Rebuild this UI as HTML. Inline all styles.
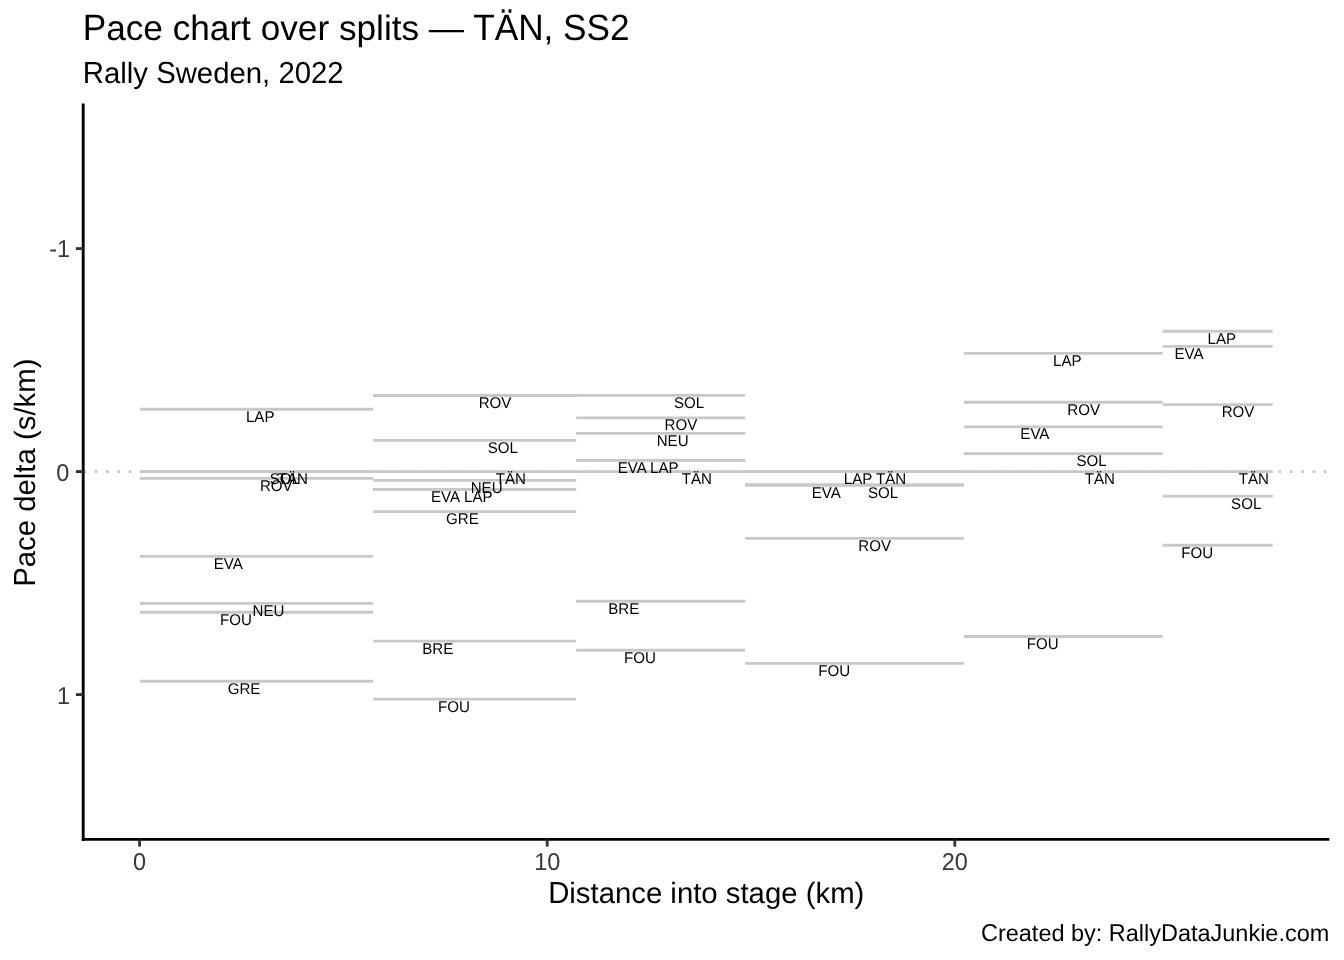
<!DOCTYPE html>
<html><head><meta charset="utf-8"><title>Pace chart over splits</title>
<style>
html,body{margin:0;padding:0;background:#fff;}
body{width:1344px;height:960px;overflow:hidden;}
svg{display:block;filter:grayscale(1);}
text{font-family:"Liberation Sans",sans-serif;text-rendering:geometricPrecision;}
</style></head><body>
<svg width="1344" height="960" viewBox="0 0 1344 960">
<rect x="0" y="0" width="1344" height="960" fill="#ffffff"/>
<line x1="83.2" y1="471.6" x2="1329.3" y2="471.6" stroke="#c8c8c8" stroke-width="2.85" stroke-dasharray="2.8455 8.5365"/>
<g stroke="#c8c8c8" stroke-width="2.85">
<line x1="139.8" y1="409.2" x2="373.1" y2="409.2"/>
<line x1="139.8" y1="471.6" x2="373.1" y2="471.6"/>
<line x1="139.8" y1="471.6" x2="373.1" y2="471.6"/>
<line x1="139.8" y1="478.3" x2="373.1" y2="478.3"/>
<line x1="139.8" y1="556.4" x2="373.1" y2="556.4"/>
<line x1="139.8" y1="603.3" x2="373.1" y2="603.3"/>
<line x1="139.8" y1="612.2" x2="373.1" y2="612.2"/>
<line x1="139.8" y1="681.2" x2="373.1" y2="681.2"/>
<line x1="373.1" y1="395.5" x2="576.1" y2="395.5"/>
<line x1="373.1" y1="440.4" x2="576.1" y2="440.4"/>
<line x1="373.1" y1="471.6" x2="576.1" y2="471.6"/>
<line x1="373.1" y1="480.4" x2="576.1" y2="480.4"/>
<line x1="373.1" y1="489.4" x2="576.1" y2="489.4"/>
<line x1="373.1" y1="489.4" x2="576.1" y2="489.4"/>
<line x1="373.1" y1="511.6" x2="576.1" y2="511.6"/>
<line x1="373.1" y1="641.1" x2="576.1" y2="641.1"/>
<line x1="373.1" y1="699.1" x2="576.1" y2="699.1"/>
<line x1="576.1" y1="395.3" x2="745.2" y2="395.3"/>
<line x1="576.1" y1="417.9" x2="745.2" y2="417.9"/>
<line x1="576.1" y1="433.3" x2="745.2" y2="433.3"/>
<line x1="576.1" y1="460.4" x2="745.2" y2="460.4"/>
<line x1="576.1" y1="460.4" x2="745.2" y2="460.4"/>
<line x1="576.1" y1="471.6" x2="745.2" y2="471.6"/>
<line x1="576.1" y1="601.2" x2="745.2" y2="601.2"/>
<line x1="576.1" y1="650.2" x2="745.2" y2="650.2"/>
<line x1="745.2" y1="471.6" x2="963.9" y2="471.6"/>
<line x1="745.2" y1="471.6" x2="963.9" y2="471.6"/>
<line x1="745.2" y1="485" x2="963.9" y2="485"/>
<line x1="745.2" y1="485" x2="963.9" y2="485"/>
<line x1="745.2" y1="538.4" x2="963.9" y2="538.4"/>
<line x1="745.2" y1="663.3" x2="963.9" y2="663.3"/>
<line x1="963.9" y1="353.4" x2="1162.6" y2="353.4"/>
<line x1="963.9" y1="402.2" x2="1162.6" y2="402.2"/>
<line x1="963.9" y1="426.8" x2="1162.6" y2="426.8"/>
<line x1="963.9" y1="453.6" x2="1162.6" y2="453.6"/>
<line x1="963.9" y1="471.6" x2="1162.6" y2="471.6"/>
<line x1="963.9" y1="636.5" x2="1162.6" y2="636.5"/>
<line x1="1162.6" y1="331.2" x2="1272.7" y2="331.2"/>
<line x1="1162.6" y1="346.3" x2="1272.7" y2="346.3"/>
<line x1="1162.6" y1="404.6" x2="1272.7" y2="404.6"/>
<line x1="1162.6" y1="471.6" x2="1272.7" y2="471.6"/>
<line x1="1162.6" y1="496.1" x2="1272.7" y2="496.1"/>
<line x1="1162.6" y1="545.2" x2="1272.7" y2="545.2"/>
</g>
<g font-size="15.12" fill="#000" text-anchor="middle">
<text transform="translate(260.2 422) scale(1 1.03)">LAP</text>
<text transform="translate(292.9 484) scale(1 1.03)">TÄN</text>
<text transform="translate(284.9 484) scale(1 1.03)">SOL</text>
<text transform="translate(276.3 491) scale(1 1.03)">ROV</text>
<text transform="translate(228.2 569) scale(1 1.03)">EVA</text>
<text transform="translate(268.5 616) scale(1 1.03)">NEU</text>
<text transform="translate(235.9 625) scale(1 1.03)">FOU</text>
<text transform="translate(244 694) scale(1 1.03)">GRE</text>
<text transform="translate(495 408) scale(1 1.03)">ROV</text>
<text transform="translate(502.9 453) scale(1 1.03)">SOL</text>
<text transform="translate(510.9 484) scale(1 1.03)">TÄN</text>
<text transform="translate(486.6 493) scale(1 1.03)">NEU</text>
<text transform="translate(445.6 502) scale(1 1.03)">EVA</text>
<text transform="translate(478.4 502) scale(1 1.03)">LAP</text>
<text transform="translate(462.4 524) scale(1 1.03)">GRE</text>
<text transform="translate(437.7 654) scale(1 1.03)">BRE</text>
<text transform="translate(453.9 712) scale(1 1.03)">FOU</text>
<text transform="translate(689 408) scale(1 1.03)">SOL</text>
<text transform="translate(680.9 430) scale(1 1.03)">ROV</text>
<text transform="translate(672.6 446) scale(1 1.03)">NEU</text>
<text transform="translate(632.2 473) scale(1 1.03)">EVA</text>
<text transform="translate(664.4 473) scale(1 1.03)">LAP</text>
<text transform="translate(696.9 484) scale(1 1.03)">TÄN</text>
<text transform="translate(623.8 614) scale(1 1.03)">BRE</text>
<text transform="translate(640 663) scale(1 1.03)">FOU</text>
<text transform="translate(858.1 484) scale(1 1.03)">LAP</text>
<text transform="translate(891.1 484) scale(1 1.03)">TÄN</text>
<text transform="translate(826.3 498) scale(1 1.03)">EVA</text>
<text transform="translate(883 498) scale(1 1.03)">SOL</text>
<text transform="translate(874.6 551) scale(1 1.03)">ROV</text>
<text transform="translate(834.1 676) scale(1 1.03)">FOU</text>
<text transform="translate(1067.3 366) scale(1 1.03)">LAP</text>
<text transform="translate(1083.7 415) scale(1 1.03)">ROV</text>
<text transform="translate(1034.9 439) scale(1 1.03)">EVA</text>
<text transform="translate(1091.6 466) scale(1 1.03)">SOL</text>
<text transform="translate(1099.9 484) scale(1 1.03)">TÄN</text>
<text transform="translate(1042.7 649) scale(1 1.03)">FOU</text>
<text transform="translate(1221.8 344) scale(1 1.03)">LAP</text>
<text transform="translate(1189 359) scale(1 1.03)">EVA</text>
<text transform="translate(1238 417) scale(1 1.03)">ROV</text>
<text transform="translate(1253.9 484) scale(1 1.03)">TÄN</text>
<text transform="translate(1246.2 509) scale(1 1.03)">SOL</text>
<text transform="translate(1197.2 558) scale(1 1.03)">FOU</text>
</g>
<line x1="83.2" y1="103.6" x2="83.2" y2="840.72" stroke="#000" stroke-width="2.85"/>
<line x1="81.78" y1="839.3" x2="1329.3" y2="839.3" stroke="#000" stroke-width="2.85"/>
<g stroke="#333333" stroke-width="2.85">
<line x1="75.87" y1="248.6" x2="83.2" y2="248.6"/>
<line x1="75.87" y1="471.6" x2="83.2" y2="471.6"/>
<line x1="75.87" y1="694.6" x2="83.2" y2="694.6"/>
<line x1="139.6" y1="839.3" x2="139.6" y2="846.63"/>
<line x1="547.2" y1="839.3" x2="547.2" y2="846.63"/>
<line x1="954.8" y1="839.3" x2="954.8" y2="846.63"/>
</g>
<g font-size="23.47" fill="#383838">
<text transform="translate(70 257.1) scale(1 1.04)" text-anchor="end">-1</text>
<text transform="translate(69.2 480.8) scale(1 1.04)" text-anchor="end">0</text>
<text transform="translate(70 703.9) scale(1 1.04)" text-anchor="end">1</text>
<text transform="translate(139.6 869.8) scale(1 1.04)" text-anchor="middle">0</text>
<text transform="translate(547.2 869.8) scale(1 1.04)" text-anchor="middle">10</text>
<text transform="translate(954.8 869.8) scale(1 1.04)" text-anchor="middle">20</text>
</g>
<text transform="translate(82.7 40.1) scale(1 1.04)" font-size="35.2" fill="#000">P</text>
<text x="106.17" y="40.1" font-size="35.2" fill="#000" xml:space="preserve">ace chart over splits — </text>
<text transform="translate(473.17 40.1) scale(1 1.04)" font-size="35.2" fill="#000">TÄN</text>
<text x="543.54" y="40.1" font-size="35.2" fill="#000" xml:space="preserve">, </text>
<text transform="translate(563.11 40.1) scale(1 1.04)" font-size="35.2" fill="#000">SS2</text>
<text transform="translate(82.8 82.8) scale(1 1.04)" font-size="29.33" fill="#000">R</text>
<text x="103.97" y="82.8" font-size="29.33" fill="#000" xml:space="preserve">ally </text>
<text transform="translate(156.13 82.8) scale(1 1.04)" font-size="29.33" fill="#000">S</text>
<text x="175.69" y="82.8" font-size="29.33" fill="#000" xml:space="preserve">weden, </text>
<text transform="translate(278.41 82.8) scale(1 1.04)" font-size="29.33" fill="#000">2022</text>
<text transform="translate(548.14 902.9) scale(1 1.04)" font-size="29.33" fill="#000">D</text>
<text x="569.31" y="902.9" font-size="29.33" fill="#000" xml:space="preserve">istance into stage (km)</text>
<g transform="translate(35.1 472.65) rotate(-90)">
<text transform="translate(-114.09 0) scale(1 1.04)" font-size="29.33" fill="#000">P</text>
<text x="-94.55" y="0" font-size="29.33" fill="#000" xml:space="preserve">ace delta (s/km)</text>
</g>
<text transform="translate(981.02 941.2) scale(1 1.04)" font-size="23.47" fill="#000">C</text>
<text x="997.96" y="941.2" font-size="23.47" fill="#000" xml:space="preserve">reated by: </text>
<text transform="translate(1108.85 941.2) scale(1 1.04)" font-size="23.47" fill="#000">R</text>
<text x="1125.8" y="941.2" font-size="23.47" fill="#000" xml:space="preserve">ally</text>
<text transform="translate(1161.02 941.2) scale(1 1.04)" font-size="23.47" fill="#000">D</text>
<text x="1177.96" y="941.2" font-size="23.47" fill="#000" xml:space="preserve">ata</text>
<text transform="translate(1210.58 941.2) scale(1 1.04)" font-size="23.47" fill="#000">J</text>
<text x="1222.32" y="941.2" font-size="23.47" fill="#000" xml:space="preserve">unkie.com</text>
</svg>
</body></html>
